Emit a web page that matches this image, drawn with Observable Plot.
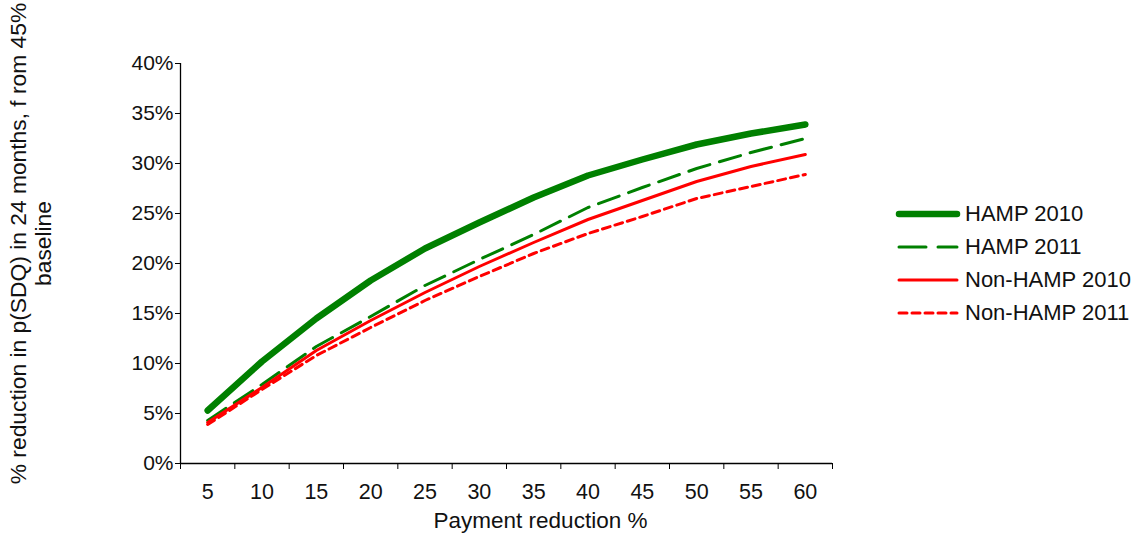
<!DOCTYPE html>
<html>
<head>
<meta charset="utf-8">
<script src="https://cdn.jsdelivr.net/npm/d3@7"></script>
<script src="https://cdn.jsdelivr.net/npm/@observablehq/plot@0.6"></script>
<style>
  html, body { margin: 0; padding: 0; background: #fff; }
  #wrap { position: relative; width: 1136px; height: 541px; font-family: "Liberation Sans", Arial, sans-serif; }
  #legend { position: absolute; left: 895px; top: 197px; font-size: 22px; color: #111; }
  #legend .row { display: flex; align-items: center; height: 33px; }
  #legend svg { margin-right: 4px; }
</style>
</head>
<body>
<div id="wrap"><div id="chart"></div><div id="legend"></div></div>
<script>
const payment = [5, 10, 15, 20, 25, 30, 35, 40, 45, 50, 55, 60];
const hamp2010 = [5.3, 10.2, 14.5, 18.3, 21.5, 24.1, 26.6, 28.8, 30.4, 31.9, 33.0, 33.9];
const hamp2011 = [4.3, 7.9, 11.7, 14.7, 17.8, 20.4, 22.9, 25.6, 27.6, 29.5, 31.1, 32.5];
const nonHamp2010 = [4.1, 7.6, 11.3, 14.3, 17.1, 19.7, 22.1, 24.4, 26.3, 28.2, 29.7, 30.9];
const nonHamp2011 = [3.9, 7.4, 10.8, 13.6, 16.3, 18.7, 21.0, 23.0, 24.7, 26.5, 27.7, 28.9];
const yTicks = [0, 5, 10, 15, 20, 25, 30, 35, 40];
const seriesNames = ["HAMP 2010", "HAMP 2011", "Non-HAMP 2010", "Non-HAMP 2011"];
const yLabel = "% reduction in p(SDQ) in 24 months, f rom 45%\nbaseline";
const xLabel = "Payment reduction %";

const styles = {
  "HAMP 2010": {stroke: "#008000", strokeWidth: 6.5, dash: null},
  "HAMP 2011": {stroke: "#008000", strokeWidth: 3, dash: "22,10"},
  "Non-HAMP 2010": {stroke: "#ff0000", strokeWidth: 3, dash: null},
  "Non-HAMP 2011": {stroke: "#ff0000", strokeWidth: 3, dash: "8,5"}
};
const seriesValues = [hamp2010, hamp2011, nonHamp2010, nonHamp2011];
const table = seriesNames.map((name, i) => payment.map((p, j) => ({series: name, x: p, y: seriesValues[i][j]})));

const step = payment[1] - payment[0];
const xDomain = [payment[0] - step / 2, payment[payment.length - 1] + step / 2];
const boundaries = d3.range(payment.length + 1).map(i => xDomain[0] + i * step);

const lineMarks = seriesNames.map((name, i) => {
  const s = styles[name];
  return Plot.line(table[i], {
    x: "x", y: "y", stroke: s.stroke, strokeWidth: s.strokeWidth,
    strokeDasharray: s.dash || undefined, strokeLinecap: "round", strokeLinejoin: "round"
  });
});

const chart = Plot.plot({
  width: 1136,
  height: 541,
  marginLeft: 180,
  marginRight: 304,
  marginTop: 63,
  marginBottom: 78,
  style: {fontFamily: "'Liberation Sans', Arial, sans-serif", fontSize: "21px", color: "#111", background: "#fff"},
  x: {domain: xDomain, axis: null},
  y: {domain: [0, 40], axis: null},
  marks: [
    Plot.axisY({ticks: yTicks, tickFormat: d => d + "%", tickSize: 5, tickPadding: 2, label: null, stroke: "#000", fontSize: 21}),
    Plot.axisX({ticks: boundaries, tickFormat: () => "", tickSize: 6, label: null, stroke: "#000"}),
    Plot.axisX({ticks: payment, tickFormat: d => String(d), tickSize: 0, tickPadding: 20, label: null, fontSize: 21.5}),
    Plot.ruleX([xDomain[0]], {stroke: "#000", strokeWidth: 1.3}),
    Plot.ruleY([0], {stroke: "#000", strokeWidth: 1.3}),
    ...lineMarks,
    Plot.text([yLabel], {text: d => d, frameAnchor: "left", textAnchor: "middle", lineAnchor: "middle", rotate: -90, dx: -150, dy: -20, fontSize: 22.8, lineHeight: 1.12, fill: "#111"}),
    Plot.text([xLabel], {text: d => d, frameAnchor: "bottom", textAnchor: "middle", dx: 34, dy: 64, fontSize: 22.5, fill: "#111"})
  ]
});
document.getElementById("chart").appendChild(chart);

// legend
const legend = document.getElementById("legend");
seriesNames.forEach(name => {
  const s = styles[name];
  const row = document.createElement("div");
  row.className = "row";
  const dash = name === "HAMP 2011" ? "27,12" : (s.dash || "");
  row.innerHTML = `<svg width="66" height="12"><line x1="4" y1="6" x2="62" y2="6" stroke="${s.stroke}" stroke-width="${s.strokeWidth}" stroke-linecap="round" ${dash ? `stroke-dasharray="${dash}"` : ""}/></svg><span>${name}</span>`;
  legend.appendChild(row);
});
</script>
</body>
</html>
